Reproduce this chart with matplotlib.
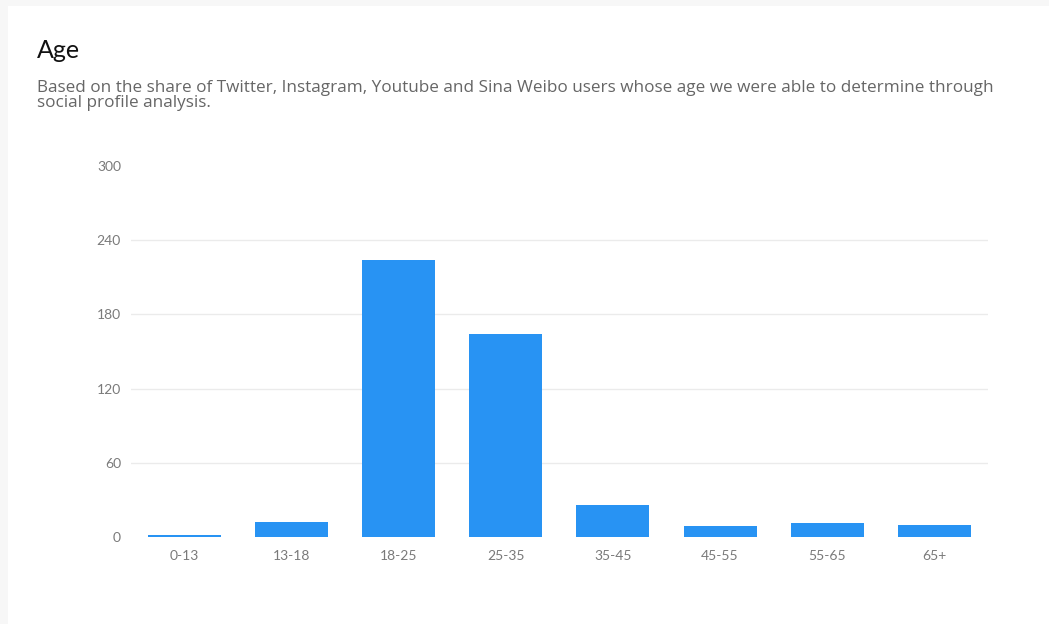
import matplotlib
matplotlib.use("Agg")
import matplotlib.pyplot as plt
from matplotlib.patches import Rectangle

categories = ["0-13", "13-18", "18-25", "25-35", "35-45", "45-55", "55-65", "65+"]
values = [1.5, 12, 224, 164, 26, 8.5, 11, 9.7]
yticks = [0, 60, 120, 180, 240, 300]

title = "Age"
subtitle_lines = ["Based on the share of Twitter, Instagram, Youtube and Sina Weibo users whose age we were able to determine through",
                  "social profile analysis."]

plt.rcParams['font.family'] = ['Lato', 'DejaVu Sans']

fig = plt.figure(figsize=(10.49, 6.24), dpi=100)
fig.patch.set_facecolor("white")
fig.patches.append(Rectangle((0, 1 - 6/624), 1, 6/624, transform=fig.transFigure,
                             facecolor="#f7f7f7", edgecolor="none", zorder=0))
fig.patches.append(Rectangle((0, 0), 8/1049, 1, transform=fig.transFigure,
                             facecolor="#f7f7f7", edgecolor="none", zorder=0))

ax = fig.add_axes([130.7/1049, 1 - 537/624, (988 - 130.7)/1049, (537 - 166)/624])
x = range(len(categories))
ax.bar(x, values, width=0.68, color="#2893F3", zorder=3)
ax.set_xlim(-0.5, len(categories) - 0.5)
ax.set_ylim(0, 300)
ax.set_yticks(yticks)
ax.set_xticks(list(x))
ax.set_xticklabels(categories)
for s in ax.spines.values():
    s.set_visible(False)
ax.tick_params(axis="both", length=0, colors="#7a7a7a", labelsize=10)
ax.tick_params(axis="y", pad=7)
ax.tick_params(axis="x", pad=9)
for yv in yticks:
    if 0 < yv < 300:
        ax.axhline(yv, color="#ebebeb", lw=1, zorder=1)

fig.text(37/1049, 1 - 58/624, title, fontsize=18, color="#111111", ha="left", va="baseline")
sub_font = ['Open Sans', 'DejaVu Sans']
fig.text(37/1049, 1 - 92/624, subtitle_lines[0], fontsize=12.3, color="#666666", ha="left",
         va="baseline", family=sub_font)
fig.text(37/1049, 1 - 107/624, subtitle_lines[1], fontsize=12.3, color="#666666", ha="left",
         va="baseline", family=sub_font)

fig.savefig("out.png", dpi=100)
